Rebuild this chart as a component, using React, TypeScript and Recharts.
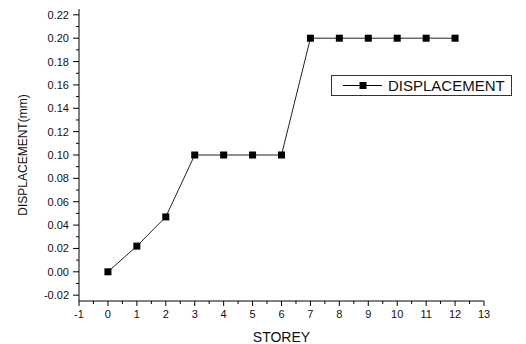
import React from 'react';
import { LineChart, Line, XAxis, YAxis, Legend } from 'recharts';

const storeys = [0, 1, 2, 3, 4, 5, 6, 7, 8, 9, 10, 11, 12];
const displacement = [0, 0.022, 0.047, 0.1, 0.1, 0.1, 0.1, 0.2, 0.2, 0.2, 0.2, 0.2, 0.2];

const xTicks = [-1, -0.5, 0, 0.5, 1, 1.5, 2, 2.5, 3, 3.5, 4, 4.5, 5, 5.5, 6, 6.5, 7, 7.5, 8, 8.5, 9, 9.5, 10, 10.5, 11, 11.5, 12, 12.5, 13];
const yTicks = [-0.02, -0.01, 0, 0.01, 0.02, 0.03, 0.04, 0.05, 0.06, 0.07, 0.08, 0.09, 0.1, 0.11, 0.12, 0.13, 0.14, 0.15, 0.16, 0.17, 0.18, 0.19, 0.2, 0.21, 0.22];

const data = storeys.map((s, i) => ({ storey: s, disp: displacement[i] }));

const FONT = 'Arial, "Liberation Sans", sans-serif';

const XTick = (props: any) => {
  const { x, y, payload } = props;
  const v = payload.value as number;
  const major = Number.isInteger(v);
  return (
    <g>
      <line x1={x} x2={x} y1={y} y2={y + (major ? 5 : 3)} stroke="#000" strokeWidth={1} />
      {major && (
        <text x={x} y={y + 17} textAnchor="middle" fontSize={11} fontFamily={FONT} fill="#111">
          {String(v)}
        </text>
      )}
    </g>
  );
};

const YTick = (props: any) => {
  const { x, y, payload } = props;
  const v = payload.value as number;
  const major = Math.round(v * 100) % 2 === 0;
  return (
    <g>
      <line x1={x - (major ? 6 : 3)} x2={x} y1={y} y2={y} stroke="#000" strokeWidth={1} />
      {major && (
        <text x={x - 10} y={y + 4} textAnchor="end" fontSize={11} fontFamily={FONT} fill="#111">
          {v.toFixed(2)}
        </text>
      )}
    </g>
  );
};

const SquareDot = (props: any) => {
  const { cx, cy, index } = props;
  return <rect key={`d${index}`} x={cx - 3.5} y={cy - 3.5} width={7} height={7} fill="#000" />;
};

const LegendBox = () => (
  <div
    style={{
      width: 179,
      height: 19,
      border: '1px solid #333',
      background: '#fff',
      display: 'flex',
      alignItems: 'center',
      fontFamily: FONT,
      fontSize: 15,
      color: '#111',
    }}
  >
    <svg width={56} height={19} style={{ display: 'block' }}>
      <line x1={11} x2={50} y1={9.5} y2={9.5} stroke="#000" strokeWidth={1} />
      <rect x={27.5} y={6} width={7} height={7} fill="#000" />
    </svg>
    <span style={{ lineHeight: '19px' }}>DISPLACEMENT</span>
  </div>
);

export default function App() {
  return (
    <div style={{ position: 'absolute', left: 0, top: 0 }}>
      <LineChart width={526} height={344} data={data} margin={{ top: 9, right: 42, bottom: 0, left: 0 }}>
        <XAxis
          dataKey="storey"
          type="number"
          domain={[-1, 13]}
          ticks={xTicks}
          interval={0}
          tickSize={0}
          tickMargin={0}
          tickLine={false}
          tick={<XTick />}
          height={43}
          axisLine={{ stroke: '#000', strokeWidth: 1 }}
          label={{
            value: 'STOREY',
            position: 'insideBottom',
            offset: 2,
            fontSize: 14,
            fontFamily: FONT,
            fill: '#111',
          }}
        />
        <YAxis
          type="number"
          domain={[-0.025, 0.225]}
          ticks={yTicks}
          interval={0}
          tickSize={0}
          tickMargin={0}
          tickLine={false}
          tick={<YTick />}
          width={79}
          axisLine={{ stroke: '#000', strokeWidth: 1 }}
          label={{
            value: 'DISPLACEMENT(mm)',
            angle: -90,
            position: 'insideLeft',
            offset: 23,
            fontSize: 12,
            fontFamily: FONT,
            fill: '#111',
            style: { textAnchor: 'middle' },
          }}
        />
        <Legend
          layout="vertical"
          align="center"
          verticalAlign="middle"
          content={<LegendBox />}
          wrapperStyle={{ position: 'absolute', left: 331, top: 75, width: 181, height: 21 }}
        />
        <Line
          dataKey="disp"
          name="DISPLACEMENT"
          stroke="#222"
          strokeWidth={1}
          dot={<SquareDot />}
          activeDot={false}
          isAnimationActive={false}
        />
      </LineChart>
    </div>
  );
}
